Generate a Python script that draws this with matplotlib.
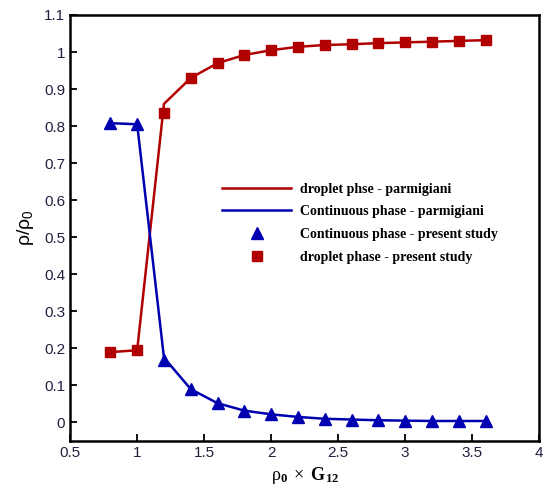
import matplotlib
matplotlib.use('Agg')
import matplotlib.pyplot as plt
import numpy as np

plt.rcParams['mathtext.fontset'] = 'custom'
plt.rcParams['mathtext.rm'] = 'Liberation Serif'
plt.rcParams['mathtext.it'] = 'Liberation Serif:italic'
plt.rcParams['mathtext.bf'] = 'Liberation Serif:bold'
plt.rcParams['mathtext.sf'] = 'Liberation Sans'

# present study (markers)
x_study = [0.8, 1.0, 1.2, 1.4, 1.6, 1.8, 2.0, 2.2, 2.4, 2.6, 2.8, 3.0, 3.2, 3.4, 3.6]
droplet_study = [0.19, 0.195, 0.835, 0.93, 0.97, 0.992, 1.005, 1.014, 1.019, 1.021, 1.024,
                 1.026, 1.028, 1.03, 1.032]
cont_study = [0.808, 0.805, 0.17, 0.09, 0.052, 0.032, 0.022, 0.015, 0.01, 0.008, 0.006,
              0.005, 0.004, 0.004, 0.004]

# parmigiani (lines)
x_parm = [0.8, 1.0, 1.2, 1.4, 1.6, 1.8, 2.0, 2.2, 2.4, 2.6, 2.8, 3.0, 3.2, 3.4, 3.6]
droplet_parm = [0.19, 0.195, 0.86, 0.93, 0.97, 0.992, 1.005, 1.014, 1.019, 1.021, 1.024,
                1.026, 1.028, 1.03, 1.032]
cont_parm = [0.808, 0.805, 0.175, 0.09, 0.052, 0.032, 0.022, 0.015, 0.01, 0.008, 0.006,
             0.005, 0.004, 0.004, 0.004]

red = '#b00000'
blue = '#0000b0'

fig = plt.figure(figsize=(5.44, 4.88), dpi=100)
ax = fig.add_axes([0.129, 0.0963, 0.862, 0.873])

ax.plot(x_parm, droplet_parm, '-', color=red, lw=1.8, label='droplet phse - parmigiani')
ax.plot(x_parm, cont_parm, '-', color=blue, lw=1.8, label='Continuous phase - parmigiani')
ax.plot(x_study, cont_study, '^', color=blue, ms=8.5, ls='none',
        label='Continuous phase - present study')
ax.plot(x_study, droplet_study, 's', color=red, ms=7.5, ls='none',
        label='droplet phase - present study')

ax.set_xlim(0.5, 4)
ax.set_ylim(-0.05, 1.1)
ax.set_xticks(np.arange(0.5, 4.01, 0.5))
ax.set_xticklabels(['0.5', '1', '1.5', '2', '2.5', '3', '3.5', '4'])
ax.set_yticks(np.arange(0, 1.11, 0.1))
ax.set_yticklabels(['0', '0.1', '0.2', '0.3', '0.4', '0.5', '0.6', '0.7', '0.8', '0.9', '1', '1.1'])

for s in ax.spines.values():
    s.set_linewidth(1.8)
ax.tick_params(direction='in', length=5, width=1.3, labelsize=11, labelcolor='#202040')
for lab in ax.get_xticklabels() + ax.get_yticklabels():
    lab.set_family('Liberation Sans')

ax.set_xlabel('$\\mathrm{ρ}_\\mathbf{0}\\ \\times\\ \\mathbf{G_{12}}$', fontsize=13, labelpad=4)
ax.set_ylabel('$\\mathsf{ρ/ρ_0}$', fontsize=14, labelpad=6)

leg = ax.legend(loc='upper left', bbox_to_anchor=(0.297, 0.636), frameon=False,
                handlelength=5, handletextpad=0.6, labelspacing=0.7,
                prop={'family': 'Liberation Serif', 'weight': 'bold', 'size': 10})

plt.savefig('out.png', dpi=100)
